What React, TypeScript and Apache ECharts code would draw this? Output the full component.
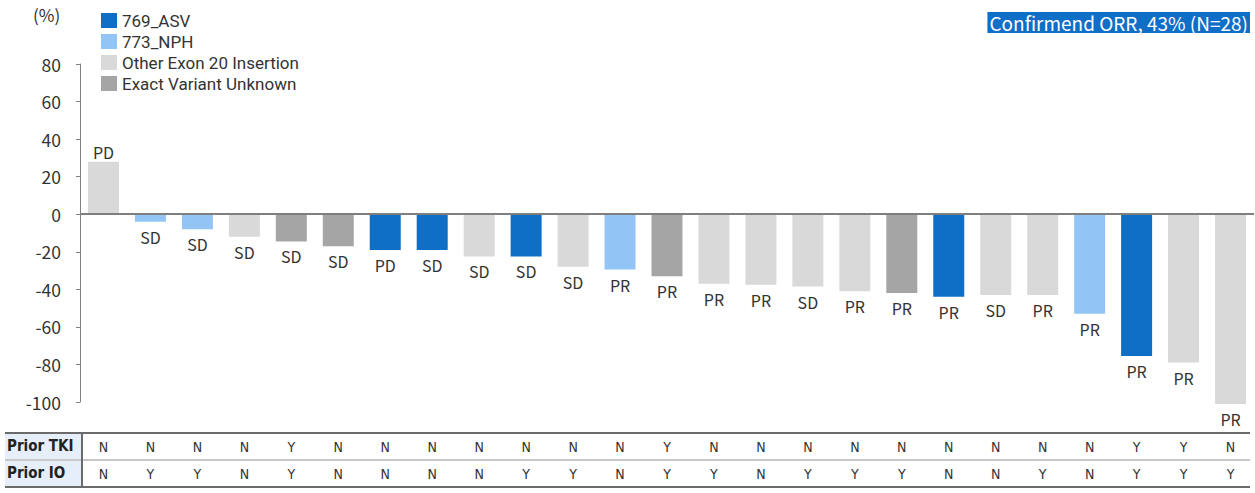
import React, { useEffect, useRef } from "react";
import * as echarts from "echarts";

const patients = Array.from({ length: 25 }, (_, i) => String(i + 1));
const changePct = [28, -4, -8, -12, -14.5, -17, -19, -19, -22.5, -22.5, -28, -29.5, -33, -37, -37.5, -38.5, -41, -42, -44, -43, -43, -53, -75.5, -79, -101];
const variantType = ["O", "N", "N", "O", "U", "U", "A", "A", "O", "A", "O", "N", "U", "O", "O", "O", "O", "U", "A", "O", "O", "N", "A", "O", "O"];
const bestResponse = ["PD", "SD", "SD", "SD", "SD", "SD", "PD", "SD", "SD", "SD", "SD", "PR", "PR", "PR", "PR", "SD", "PR", "PR", "PR", "SD", "PR", "PR", "PR", "PR", "PR"];
const priorTKI = ["N", "N", "N", "N", "Y", "N", "N", "N", "N", "N", "N", "N", "Y", "N", "N", "N", "N", "N", "N", "N", "N", "N", "Y", "Y", "N"];
const priorIO = ["N", "Y", "Y", "N", "Y", "N", "N", "N", "N", "Y", "Y", "N", "Y", "Y", "N", "Y", "Y", "Y", "N", "N", "Y", "N", "Y", "Y", "Y"];
const variants = [
  { key: "A", name: "769_ASV", color: "#0f6ec6" },
  { key: "N", name: "773_NPH", color: "#92c5f5" },
  { key: "O", name: "Other Exon 20 Insertion", color: "#d9d9d9" },
  { key: "U", name: "Exact Variant Unknown", color: "#a5a5a5" },
];
const yTicks = { min: -100, max: 80, interval: 20 };

const FONT = "'Noto Sans CJK KR', 'Noto Sans', sans-serif";
const LEGEND_FONT = "Roboto, 'Noto Sans', sans-serif";
const NARROW = "'Liberation Sans Narrow', 'DejaVu Sans Condensed', 'Liberation Sans', sans-serif";

export default function App() {
  const ref = useRef<HTMLDivElement>(null);
  useEffect(() => {
    document.body.style.margin = "0";
    const chart = echarts.init(ref.current!, null, { renderer: "svg" });
    const series: any[] = variants.map((v, si) => ({
      type: "bar",
      name: v.name,
      barWidth: 31,
      barGap: "-100%",
      clip: false,
      itemStyle: { color: v.color },
      data: changePct.map((val, i) =>
        variantType[i] === v.key
          ? {
              value: val,
              label: {
                show: true,
                position: val >= 0 ? "top" : "bottom",
                distance: val >= 0 ? 2 : 7,
                formatter: () => bestResponse[i],
                fontSize: 16,
                color: "#333",
                fontFamily: FONT,
              },
            }
          : "-"
      ),
      markLine:
        si === 0
          ? {
              silent: true,
              symbol: "none",
              label: { show: false },
              lineStyle: { color: "#7f7f7f", width: 2, type: "solid" },
              data: [{ yAxis: 0 }],
            }
          : undefined,
    }));
    chart.setOption({
      animation: false,
      textStyle: { fontFamily: FONT },
      grid: { left: 80, right: 1, top: 64, bottom: 91 },
      title: {
        text: "Confirmend ORR, 43% (N=28)",
        right: 5,
        top: 12,
        backgroundColor: "#0f6ec6",
        padding: [1, 2, 1, 2],
        textStyle: { color: "#fff", fontSize: 19, fontWeight: "normal", fontFamily: FONT },
      },
      legend: {
        orient: "vertical",
        left: 96,
        top: 7,
        itemWidth: 16,
        itemHeight: 15,
        itemGap: 4,
        icon: "rect",
        textStyle: { fontSize: 17, lineHeight: 17, color: "#333", fontFamily: LEGEND_FONT },
        data: variants.map((v) => v.name),
      },
      xAxis: {
        type: "category",
        data: patients,
        axisLine: { show: false, onZero: false },
        axisTick: { show: false },
        axisLabel: {
          margin: 31,
          interval: 0,
          fontSize: 14,
          lineHeight: 27,
          color: "#333",
          fontFamily: NARROW,
          formatter: (_: string, idx: number) => `${priorTKI[idx]}\n${priorIO[idx]}`,
        },
      },
      yAxis: {
        type: "value",
        min: yTicks.min,
        max: yTicks.max,
        interval: yTicks.interval,
        splitLine: { show: false },
        axisLine: { show: true, lineStyle: { color: "#808080", width: 1 } },
        axisTick: { show: true, length: 4, lineStyle: { color: "#808080" } },
        axisLabel: { fontSize: 17.5, color: "#333", margin: 19, fontFamily: FONT },
      },
      graphic: [
        { type: "text", left: 33, top: 6, style: { text: "(%)", fontSize: 17, fill: "#333", fontFamily: FONT } },
        { type: "rect", shape: { x: 5, y: 434, width: 77, height: 52 }, style: { fill: "#e6eefa" } },
        { type: "line", shape: { x1: 5, y1: 433, x2: 1250, y2: 433 }, style: { stroke: "#6b6b6b", lineWidth: 2 } },
        { type: "line", shape: { x1: 5, y1: 460, x2: 1250, y2: 460 }, style: { stroke: "#c8c8c8", lineWidth: 2 } },
        { type: "line", shape: { x1: 5, y1: 487, x2: 1250, y2: 487 }, style: { stroke: "#6b6b6b", lineWidth: 2 } },
        { type: "line", shape: { x1: 82, y1: 434, x2: 82, y2: 486 }, style: { stroke: "#6b6b6b", lineWidth: 2 } },
        { type: "text", x: 7, y: 446, style: { text: "Prior TKI", fontSize: 15, fontWeight: "bold", fill: "#222", fontFamily: NARROW, verticalAlign: "middle" } },
        { type: "text", x: 7, y: 473, style: { text: "Prior IO", fontSize: 15, fontWeight: "bold", fill: "#222", fontFamily: NARROW, verticalAlign: "middle" } },
      ],
      series,
    });
    return () => chart.dispose();
  }, []);
  return <div ref={ref} style={{ width: 1255, height: 493 }} />;
}
